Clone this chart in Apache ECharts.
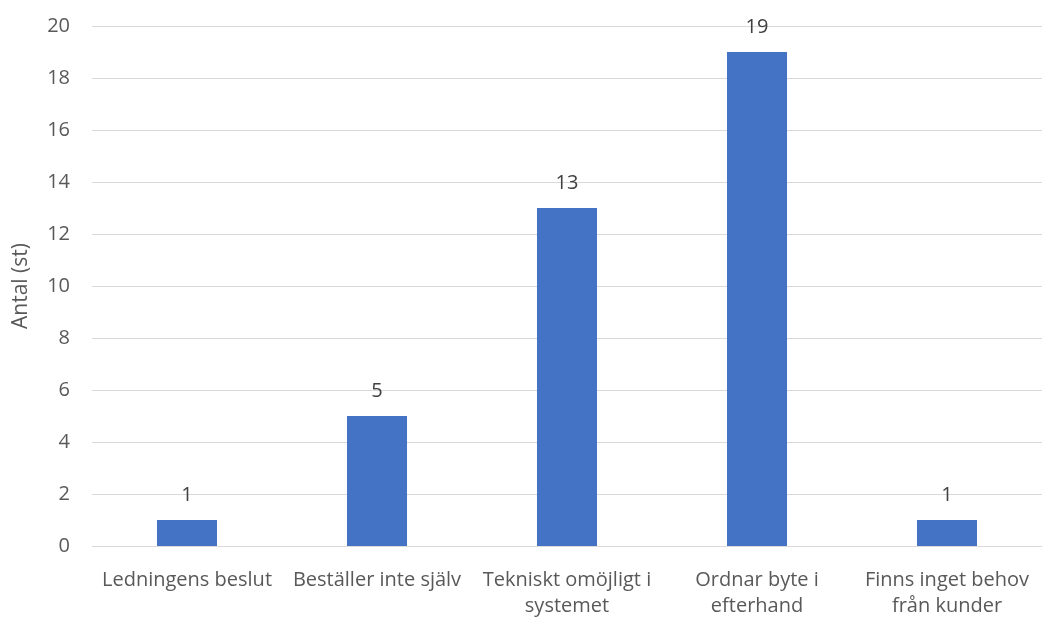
<!DOCTYPE html>
<html>
<head>
<meta charset="utf-8">
<script src="https://cdn.jsdelivr.net/npm/echarts@6/dist/echarts.min.js"></script>
<style>
  html, body { margin: 0; padding: 0; background: #fff; }
  #chart { width: 1043px; height: 617px; }
</style>
</head>
<body>
<div id="chart"></div>
<script>
// kategorier och värden
const categories = ['Ledningens beslut', 'Beställer inte själv', 'Tekniskt omöjligt i\nsystemet', 'Ordnar byte i\nefterhand', 'Finns inget behov\nfrån kunder'];
const values = [1, 5, 13, 19, 1];
const yTicks = [0, 2, 4, 6, 8, 10, 12, 14, 16, 18, 20];

const chart = echarts.init(document.getElementById('chart'));
const font = 'Open Sans, Liberation Sans, sans-serif';

chart.setOption({
  animation: false,
  grid: { left: 92, right: 1, top: 26, bottom: 71, outerBoundsMode: 'none' },
  xAxis: {
    type: 'category',
    data: categories,
    axisLine: { lineStyle: { color: '#d9d9d9' } },
    axisTick: { show: false },
    axisLabel: { color: '#595959', fontSize: 20, fontFamily: font, lineHeight: 26, margin: 21, interval: 0 }
  },
  yAxis: {
    type: 'value',
    min: yTicks[0],
    max: yTicks[yTicks.length - 1],
    interval: 2,
    name: 'Antal (st)',
    nameLocation: 'middle',
    nameGap: 60,
    nameTextStyle: { color: '#595959', fontSize: 21, fontFamily: font },
    axisLine: { show: false },
    axisTick: { show: false },
    axisLabel: { color: '#595959', fontSize: 20, fontFamily: font, margin: 22 },
    splitLine: { lineStyle: { color: '#d9d9d9', width: 1 } }
  },
  series: [{
    type: 'bar',
    data: values,
    barWidth: '31.6%',
    itemStyle: { color: '#4472c4' },
    label: { show: true, position: 'top', distance: 15, color: '#404040', fontSize: 20, fontFamily: font }
  }]
});
</script>
</body>
</html>
